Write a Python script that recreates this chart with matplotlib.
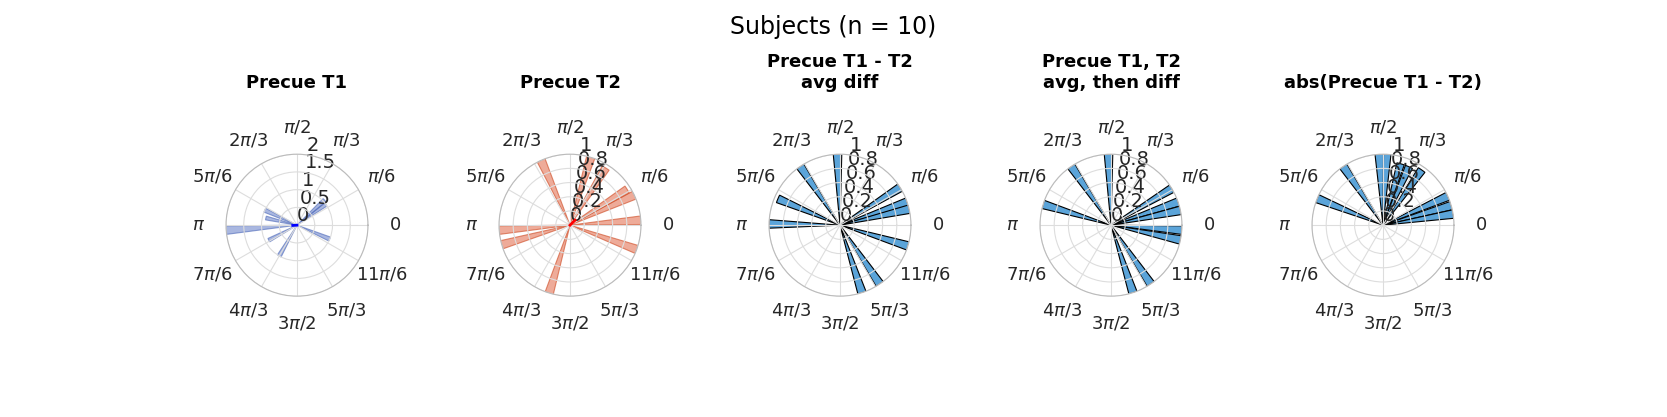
import numpy as np
import matplotlib
matplotlib.use('Agg')
import matplotlib.pyplot as plt

# bar centers (degrees) and lengths
t1_deg = [184, 36, 42, 155, 167, 208, 240, 337]
t1_len = [2.0, 1.0, 1.05, 1.0, 0.9, 0.9, 1.0, 1.0]
t2_deg = [4, 25, 32, 58, 73, 114, 184, 196, 253, 340]
t2_len = [1.0, 1.0, 0.95, 0.95, 1.0, 1.0, 1.0, 1.0, 1.0, 1.0]
d1_deg = [92, 124, 157, 179, 32, 19, 13, 343, 304, 288]
d1_len = [1.0, 1.0, 0.95, 1.0, 1.0, 1.0, 1.0, 1.0, 1.0, 1.0]
d2_deg = [92, 124, 163, 31, 19, 12, 356, 348, 304, 288]
d2_len = [1.0, 1.0, 1.0, 1.0, 1.0, 1.0, 1.0, 1.0, 1.0, 1.0]
ab_deg = [87, 93, 74, 66, 55, 124, 158, 24, 16, 9]
ab_len = [1.0, 1.0, 0.9, 0.9, 0.95, 1.0, 1.0, 1.0, 1.0, 1.0]

titles = ['Precue T1', 'Precue T2', 'Precue T1 - T2\navg diff',
          'Precue T1, T2\navg, then diff', 'abs(Precue T1 - T2)']
datasets = [(t1_deg, t1_len), (t2_deg, t2_len), (d1_deg, d1_len),
            (d2_deg, d2_len), (ab_deg, ab_len)]
rmax = [2, 1, 1, 1, 1]
rticks = [[0, 0.5, 1, 1.5, 2], [0, 0.2, 0.4, 0.6, 0.8, 1]] + [[0, 0.2, 0.4, 0.6, 0.8, 1]] * 3
faces = [('#7088CC', 0.6, '#4A66B8'), ('#E57E62', 0.65, '#D0502A')] + [('#5BA4D9', 1.0, 'black')] * 3
theta_labels = ['0', r'$\pi$/6', r'$\pi$/3', r'$\pi$/2', r'2$\pi$/3', r'5$\pi$/6', r'$\pi$',
                r'7$\pi$/6', r'4$\pi$/3', r'3$\pi$/2', r'5$\pi$/3', r'11$\pi$/6']

fig = plt.figure(figsize=(16.67, 4.17), dpi=100)
fig.suptitle('Subjects (n = 10)', fontsize=17, y=0.965)

centers = [297, 570, 840, 1111, 1383]
w, h = 142 / 1667, 142 / 417
for i, cx in enumerate(centers):
    ax = fig.add_axes([cx / 1667 - w / 2, 0.46 - h / 2, w, h], projection='polar')
    deg, ln = datasets[i]
    fc, al, ec = faces[i]
    ax.bar(np.deg2rad(deg), ln, width=0.12, color=fc, alpha=al, edgecolor=ec, linewidth=0.8)
    if i == 0:
        ax.plot([0, np.pi * 1.02], [0, 0.12], color='blue', lw=2)
    if i == 1:
        ax.plot([0, np.pi / 4], [0, 0.1], color='red', lw=2)
    ax.set_ylim(0, rmax[i])
    ax.set_yticks(rticks[i])
    ax.set_yticklabels([('%g' % v) for v in rticks[i]], fontsize=14, color='#262626')
    ax.set_rlabel_position(82)
    ax.set_xticks(np.deg2rad(np.arange(0, 360, 30)))
    ax.set_xticklabels(theta_labels, fontsize=13, color='#262626')
    ax.tick_params(axis='x', pad=9)
    ax.grid(color='#DDDDDD', lw=0.8)
    ax.spines['polar'].set_color('#BBBBBB')
    ax.set_title(titles[i], fontsize=13, fontweight='bold', pad=22)

fig.savefig('out.png', dpi=100)
